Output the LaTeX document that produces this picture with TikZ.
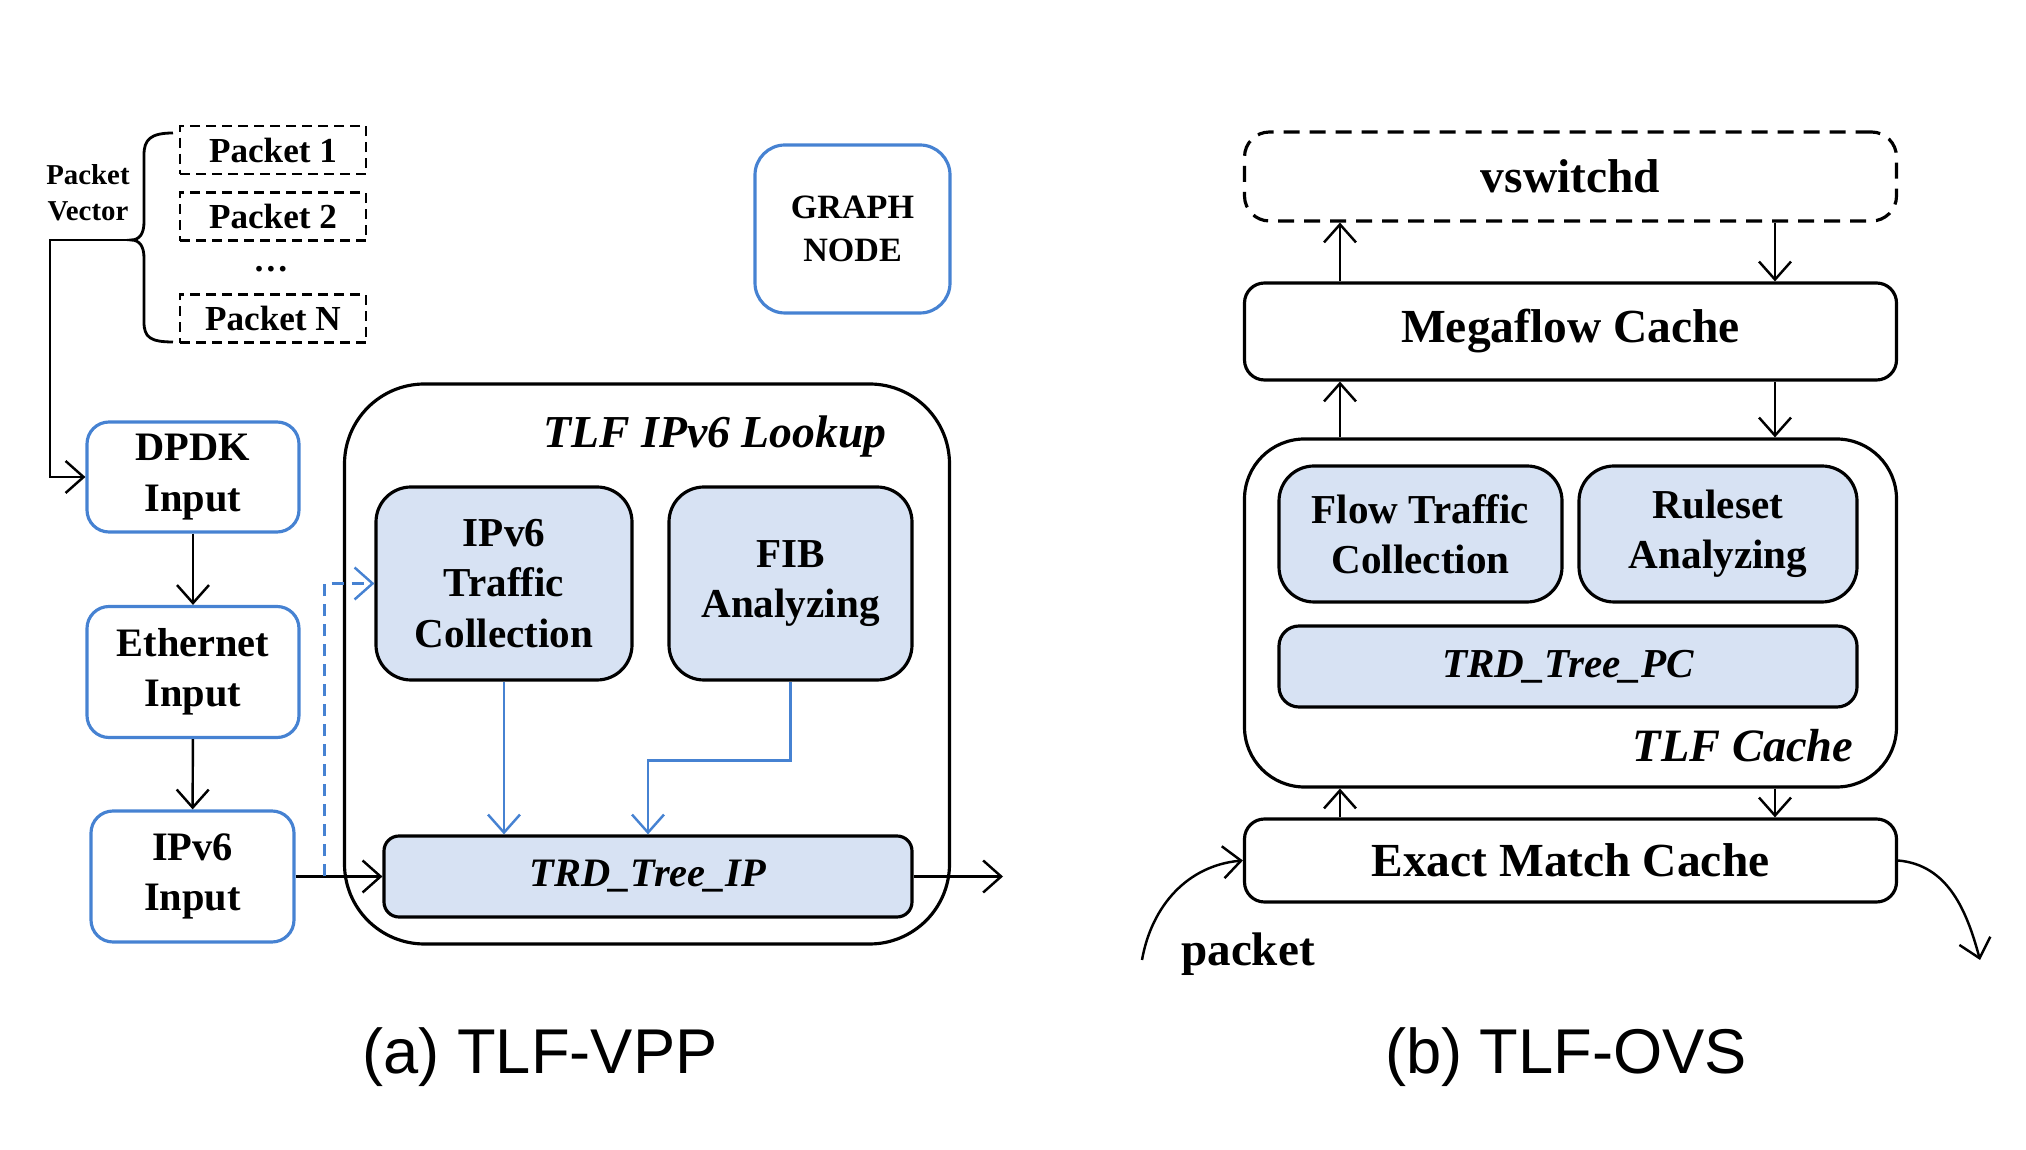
\documentclass[tikz,border=0pt]{standalone}
\usepackage{fontspec}
\setmainfont{Liberation Serif}
\setsansfont{Liberation Sans}
\usetikzlibrary{arrows.meta}
\definecolor{nodeblue}{RGB}{70,130,210}
\definecolor{cellfill}{RGB}{215,226,243}

\begin{document}
\begin{tikzpicture}[
  >={Straight Barb[length=1.8mm,width=3.2mm]},
  arr/.style={->,line width=0.7pt},
  pkt/.style={draw,line width=0.8pt,dash pattern=on 1mm off 0.6mm,minimum width=1.86cm,minimum height=0.47cm,font=\bfseries\fontsize{10}{12}\selectfont},
  vppnode/.style={draw=nodeblue,line width=0.9pt,rounded corners=2.2mm,align=center,font=\bfseries\fontsize{11.5}{14.3}\selectfont},
  cell/.style={draw,line width=0.9pt,fill=cellfill,rounded corners=3.5mm,align=center,font=\bfseries\fontsize{11.7}{14.3}\selectfont},
  ovsbox/.style={draw,line width=0.9pt,rounded corners=2mm,minimum width=6.52cm,font=\bfseries\fontsize{13.5}{16}\selectfont},
  caption/.style={font=\sffamily\fontsize{18}{22}\selectfont}
]
\useasboundingbox (0,0) rectangle (20.26,-11.5);

% (a) TLF-VPP
\node[align=center,font=\bfseries\fontsize{8.2}{10.3}\selectfont] (pvlabel) at (0.88,-1.93) {Packet\\Vector};
\node[pkt] (pkta) at (2.73,-1.50) {Packet 1};
\node[pkt] (pktb) at (2.73,-2.165) {Packet 2};
\node[font=\bfseries\fontsize{10}{12}\selectfont] (pktdots) at (2.71,-2.69) {\dots};
\node[pkt] (pktn) at (2.73,-3.185) {Packet N};
\draw[line width=0.8pt] (1.73,-1.33) .. controls (1.50,-1.33) and (1.44,-1.40) .. (1.44,-1.55) -- (1.44,-2.22)
  .. controls (1.44,-2.33) and (1.40,-2.40) .. (1.31,-2.40)
  .. controls (1.40,-2.40) and (1.44,-2.47) .. (1.44,-2.58) -- (1.44,-3.22)
  .. controls (1.44,-3.37) and (1.50,-3.42) .. (1.73,-3.42);
\coordinate (bracetip) at (1.31,-2.40);

\node[vppnode,rounded corners=3mm,minimum width=1.95cm,minimum height=1.68cm,font=\bfseries\fontsize{9.7}{12.2}\selectfont] (graph) at (8.525,-2.29) {GRAPH\\NODE};

\node[vppnode,minimum width=2.12cm,minimum height=1.10cm] (dpdk) at (1.93,-4.77) {DPDK\\Input};
\node[vppnode,minimum width=2.12cm,minimum height=1.31cm] (eth) at (1.93,-6.72) {Ethernet\\Input};
\node[vppnode,minimum width=2.03cm,minimum height=1.31cm] (ipin) at (1.925,-8.765) {IPv6\\Input};

\node[draw,line width=0.9pt,rounded corners=8mm,minimum width=6.05cm,minimum height=5.60cm] (lookup) at (6.47,-6.64) {};
\node[font=\bfseries\itshape\fontsize{13}{15}\selectfont] (lookuplabel) at (7.15,-4.37) {TLF IPv6 Lookup};
\node[cell,minimum width=2.56cm,minimum height=1.93cm] (ipcol) at (5.04,-5.835) {IPv6\\Traffic\\Collection};
\node[cell,minimum width=2.43cm,minimum height=1.93cm] (fib) at (7.905,-5.835) {FIB\\Analyzing};
\node[cell,rounded corners=1.5mm,minimum width=5.28cm,minimum height=0.81cm,font=\bfseries\itshape\fontsize{11.5}{14}\selectfont] (trdip) at (6.48,-8.765) {TRD\_Tree\_IP};
\coordinate (vppout) at (10.03,-8.765);

\draw[arr] (bracetip) -- ++(-0.81,0) |- (dpdk.west);
\draw[arr] (dpdk) -- (eth);
\draw[arr] (eth) -- (ipin);
\draw[arr] (ipin.east) -- (trdip.west);
\draw[arr,nodeblue,dash pattern=on 1.2mm off 0.8mm] ([xshift=0.29cm]ipin.east) |- (ipcol.west);
\draw[arr,nodeblue] (ipcol.south) -- (ipcol.south |- trdip.north);
\draw[arr,nodeblue] (fib.south) -- ++(0,-0.79) -| (trdip.north);
\draw[arr] (trdip.east) -- (vppout);

\node[caption] (capa) at (5.40,-10.57) {(a) TLF-VPP};

% (b) TLF-OVS
\node[ovsbox,dash pattern=on 1.6mm off 1mm,rounded corners=2.5mm,minimum height=0.89cm] (vsw) at (15.705,-1.765) {vswitchd};
\node[ovsbox,minimum height=0.97cm] (mega) at (15.705,-3.315) {Megaflow Cache};
\node[draw,line width=0.9pt,rounded corners=6mm,minimum width=6.52cm,minimum height=3.48cm] (tlfcache) at (15.705,-6.13) {};
\node[cell,minimum width=2.83cm,minimum height=1.36cm] (flow) at (14.205,-5.34) {Flow Traffic\\Collection};
\node[cell,minimum width=2.78cm,minimum height=1.36cm] (rule) at (17.18,-5.34) {Ruleset\\Analyzing};
\node[cell,rounded corners=2mm,minimum width=5.78cm,minimum height=0.81cm,font=\bfseries\itshape\fontsize{11.7}{14}\selectfont] (trdpc) at (15.68,-6.665) {TRD\_Tree\_PC};
\node[font=\bfseries\itshape\fontsize{13.2}{15}\selectfont] (tlflabel) at (17.43,-7.46) {TLF Cache};
\node[ovsbox,minimum height=0.83cm] (emc) at (15.705,-8.605) {Exact Match Cache};

\coordinate (upx) at (13.40,0);
\coordinate (dnx) at (17.75,0);
\draw[arr] (mega.north -| upx) -- (vsw.south -| upx);
\draw[arr] (vsw.south -| dnx) -- (mega.north -| dnx);
\draw[arr] (tlfcache.north -| upx) -- (mega.south -| upx);
\draw[arr] (mega.south -| dnx) -- (tlfcache.north -| dnx);
\draw[arr] (emc.north -| upx) -- (tlfcache.south -| upx);
\draw[arr] (tlfcache.south -| dnx) -- (emc.north -| dnx);

\coordinate (pktin) at (11.42,-9.60);
\coordinate (ovsout) at (19.80,-9.60);
\draw[arr] (pktin) to[out=80,in=185] (emc.west);
\draw[arr] (emc.east) to[out=-5,in=105] (ovsout);
\node[font=\bfseries\fontsize{13.4}{16}\selectfont] (pktlabel) at (12.48,-9.54) {packet};

\node[caption] (capb) at (15.66,-10.57) {(b) TLF-OVS};
\end{tikzpicture}
\end{document}
